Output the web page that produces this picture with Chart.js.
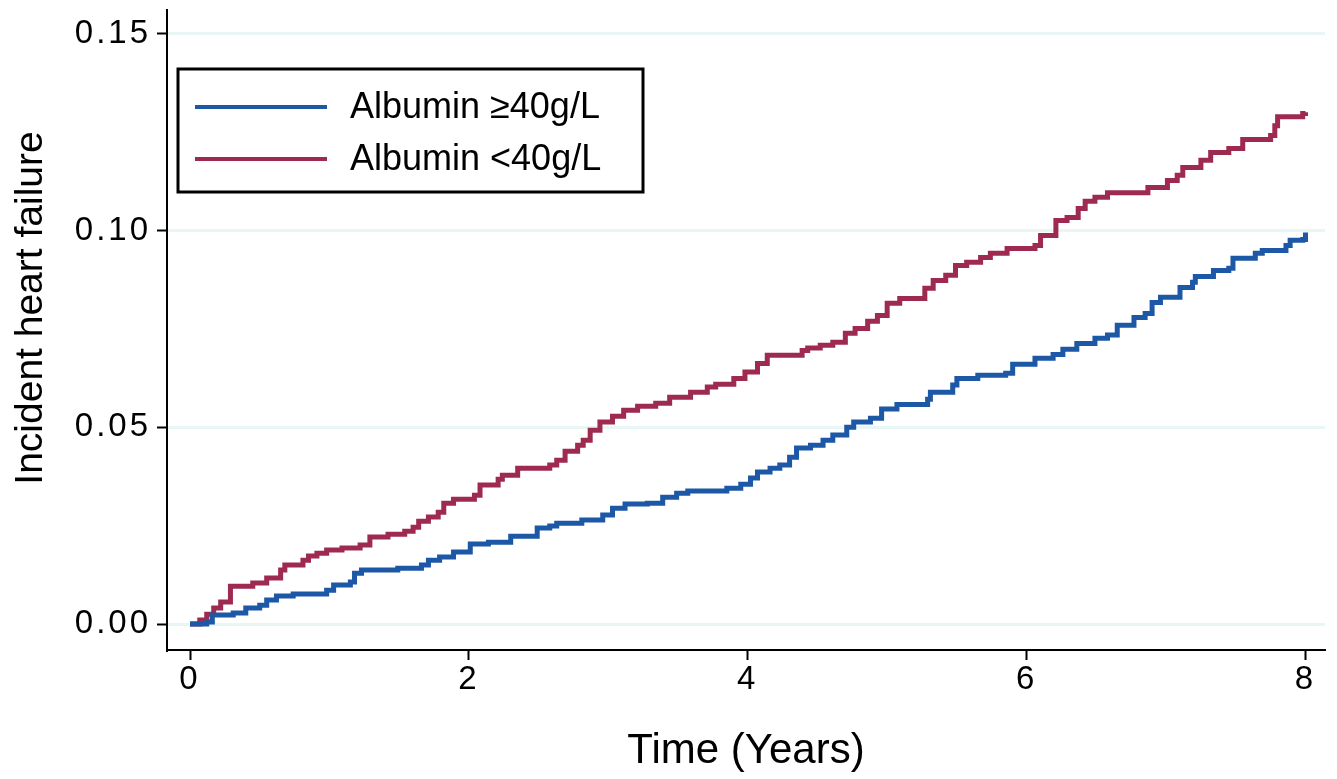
<!DOCTYPE html>
<html>
<head>
<meta charset="utf-8">
<script src="https://cdn.jsdelivr.net/npm/chart.js@4"></script>
<style>
  html, body { margin: 0; padding: 0; background: #fff; }
  #wrap { width: 1337px; height: 779px; }
</style>
</head>
<body>
<div id="wrap"><canvas id="chart1" width="1337" height="779"></canvas></div>
<script>
// Cumulative incidence, Albumin >=40 g/L (blue)
var timeHigh = [0, 0.12, 0.16, 0.31, 0.40, 0.50, 0.55, 0.62, 0.74, 0.98,
    1.03, 1.15, 1.18, 1.23, 1.49, 1.66, 1.71, 1.79, 1.89, 2.01,
    2.14, 2.30, 2.49, 2.58, 2.63, 2.81, 2.96, 3.03, 3.12, 3.28,
    3.39, 3.49, 3.57, 3.85, 3.95, 4.02, 4.07, 4.16, 4.23, 4.30,
    4.35, 4.45, 4.54, 4.61, 4.71, 4.76, 4.88, 4.96, 5.07, 5.29,
    5.31, 5.47, 5.50, 5.65, 5.85, 5.90, 6.06, 6.19, 6.26, 6.36,
    6.49, 6.58, 6.65, 6.77, 6.85, 6.90, 6.96, 7.10, 7.19, 7.21,
    7.34, 7.45, 7.48, 7.64, 7.69, 7.86, 7.89, 7.98, 8.00];
var incHigh = [0, 0.0005, 0.0023, 0.0028, 0.0041, 0.0048, 0.0061, 0.0071, 0.0076, 0.0086,
    0.0099, 0.0107, 0.0129, 0.0137, 0.0142, 0.0150, 0.0162, 0.0170, 0.0183, 0.0203,
    0.0208, 0.0223, 0.0244, 0.0249, 0.0256, 0.0264, 0.0277, 0.0294, 0.0305, 0.0307,
    0.0322, 0.0332, 0.0338, 0.0345, 0.0355, 0.0371, 0.0386, 0.0396, 0.0404, 0.0424,
    0.0447, 0.0454, 0.0467, 0.0480, 0.0500, 0.0513, 0.0523, 0.0546, 0.0558, 0.0571,
    0.0589, 0.0607, 0.0624, 0.0632, 0.0637, 0.0660, 0.0675, 0.0685, 0.0698, 0.0713,
    0.0726, 0.0734, 0.0759, 0.0779, 0.0789, 0.0817, 0.0830, 0.0855, 0.0868, 0.0883,
    0.0898, 0.0904, 0.0929, 0.0942, 0.0949, 0.0962, 0.0975, 0.0977, 0.0995];

// Cumulative incidence, Albumin <40 g/L (red)
var timeLow = [0, 0.07, 0.12, 0.17, 0.22, 0.29, 0.45, 0.55, 0.65, 0.68,
    0.81, 0.85, 0.91, 0.98, 1.09, 1.22, 1.29, 1.42, 1.54, 1.60,
    1.64, 1.71, 1.78, 1.82, 1.89, 2.04, 2.08, 2.21, 2.24, 2.35,
    2.58, 2.63, 2.69, 2.78, 2.82, 2.87, 2.94, 3.03, 3.11, 3.21,
    3.34, 3.44, 3.59, 3.71, 3.77, 3.90, 3.98, 4.07, 4.14, 4.39,
    4.43, 4.52, 4.61, 4.70, 4.77, 4.86, 4.93, 5.00, 5.09, 5.27,
    5.33, 5.42, 5.49, 5.57, 5.67, 5.74, 5.86, 6.06, 6.10, 6.21,
    6.29, 6.37, 6.42, 6.49, 6.58, 6.87, 7.01, 7.08, 7.12, 7.25,
    7.32, 7.45, 7.55, 7.75, 7.78, 7.80, 7.98, 8.00];
var incLow = [0, 0.0010, 0.0025, 0.0041, 0.0056, 0.0096, 0.0104, 0.0117, 0.0137, 0.0150,
    0.0162, 0.0173, 0.0180, 0.0188, 0.0193, 0.0201, 0.0221, 0.0228, 0.0236, 0.0246,
    0.0261, 0.0272, 0.0284, 0.0307, 0.0317, 0.0327, 0.0353, 0.0368, 0.0378, 0.0396,
    0.0404, 0.0416, 0.0439, 0.0454, 0.0467, 0.0492, 0.0513, 0.0528, 0.0543, 0.0553,
    0.0561, 0.0576, 0.0589, 0.0602, 0.0609, 0.0624, 0.0640, 0.0662, 0.0683, 0.0695,
    0.0701, 0.0708, 0.0716, 0.0739, 0.0751, 0.0769, 0.0784, 0.0815, 0.0827, 0.0853,
    0.0873, 0.0886, 0.0911, 0.0919, 0.0931, 0.0942, 0.0954, 0.0962, 0.0987, 0.1025,
    0.1033, 0.1056, 0.1074, 0.1084, 0.1096, 0.1109, 0.1127, 0.1140, 0.1160, 0.1178,
    0.1198, 0.1208, 0.1231, 0.1241, 0.1266, 0.1289, 0.1297, 0.1300];

var seriesLabels = ['Albumin \u226540g/L', 'Albumin <40g/L'];
var seriesColors = ['#1c58a5', '#9e2a50'];
var xTicks = [0, 2, 4, 6, 8];
var yTicks = [0, 0.05, 0.10, 0.15];
var xTitle = 'Time (Years)';
var yTitle = 'Incident heart failure';

var fontFamily = '"Liberation Sans", Arial, Helvetica, sans-serif';

function toPoints(xs, ys) {
    return xs.map(function (x, i) { return { x: x, y: ys[i] }; });
}

// wide tick lettering like the original export
var spacingPlugin = {
    id: 'spacing',
    beforeDraw: function (chart) {
        chart.ctx.letterSpacing = '3px';
    }
};

// legend box and axis titles
var overlayPlugin = {
    id: 'overlay',
    afterDraw: function (chart) {
        var ctx = chart.ctx;
        var area = chart.chartArea;
        ctx.save();
        ctx.letterSpacing = '0px';
        ctx.fillStyle = '#000';

        // legend
        var bx = area.left + 11, by = area.top + 59;
        ctx.strokeStyle = '#000';
        ctx.lineWidth = 3;
        ctx.strokeRect(bx, by, 465, 123);
        ctx.font = '36px ' + fontFamily;
        ctx.textAlign = 'left';
        ctx.textBaseline = 'middle';
        for (var i = 0; i < seriesLabels.length; i++) {
            var ly = by + 38 + i * 52;
            ctx.strokeStyle = seriesColors[i];
            ctx.lineWidth = 4;
            ctx.beginPath();
            ctx.moveTo(bx + 17, ly);
            ctx.lineTo(bx + 149, ly);
            ctx.stroke();
            ctx.fillText(seriesLabels[i], bx + 172, ly + 1);
        }

        // x title
        ctx.font = '42px ' + fontFamily;
        ctx.textAlign = 'center';
        ctx.textBaseline = 'alphabetic';
        ctx.fillText(xTitle, (area.left + area.right) / 2, 763);

        // y title
        ctx.translate(42, 308);
        ctx.rotate(-Math.PI / 2);
        ctx.font = '39px ' + fontFamily;
        ctx.fillText(yTitle, 0, 0);
        ctx.restore();
    }
};

var ctx1 = document.getElementById('chart1').getContext('2d');
var chart1 = new Chart(ctx1, {
    type: 'line',
    data: {
        datasets: [{
            label: seriesLabels[0],
            data: toPoints(timeHigh, incHigh),
            borderColor: seriesColors[0],
            borderWidth: 5,
            pointRadius: 0,
            stepped: true,
            fill: false
        }, {
            label: seriesLabels[1],
            data: toPoints(timeLow, incLow),
            borderColor: seriesColors[1],
            borderWidth: 5,
            pointRadius: 0,
            stepped: true,
            fill: false
        }]
    },
    options: {
        responsive: false,
        animation: false,
        devicePixelRatio: 1,
        layout: { padding: { top: 10, right: 12, left: 0, bottom: 0 } },
        plugins: {
            legend: { display: false },
            tooltip: { enabled: false }
        },
        scales: {
            x: {
                type: 'linear',
                min: -0.165,
                max: 8.14,
                afterBuildTicks: function (s) { s.ticks = xTicks.map(function (v) { return { value: v }; }); },
                afterFit: function (s) {
                    s.height = 129;
                    s.paddingLeft = 0;
                    s.paddingRight = 0;
                },
                grid: { drawOnChartArea: false, tickLength: 10, tickColor: '#000', tickWidth: 2 },
                border: { color: '#000', width: 2 },
                ticks: {
                    font: { family: fontFamily, size: 33 },
                    color: '#000',
                    padding: 0,
                    maxRotation: 0,
                    autoSkip: false,
                    callback: function (v) { return String(v); }
                }
            },
            y: {
                min: -0.0066,
                max: 0.156,
                afterBuildTicks: function (s) { s.ticks = yTicks.map(function (v) { return { value: v }; }); },
                afterFit: function (s) {
                    s.width = 167;
                    s.paddingTop = 0;
                    s.paddingBottom = 0;
                },
                grid: { color: '#e9f6f6', lineWidth: 3, tickLength: 10, tickColor: '#000', tickWidth: 2 },
                border: { color: '#000', width: 2 },
                ticks: {
                    font: { family: fontFamily, size: 33 },
                    color: '#000',
                    padding: 6,
                    autoSkip: false,
                    callback: function (v) { return v.toFixed(2); }
                }
            }
        }
    },
    plugins: [spacingPlugin, overlayPlugin]
});
</script>
</body>
</html>
